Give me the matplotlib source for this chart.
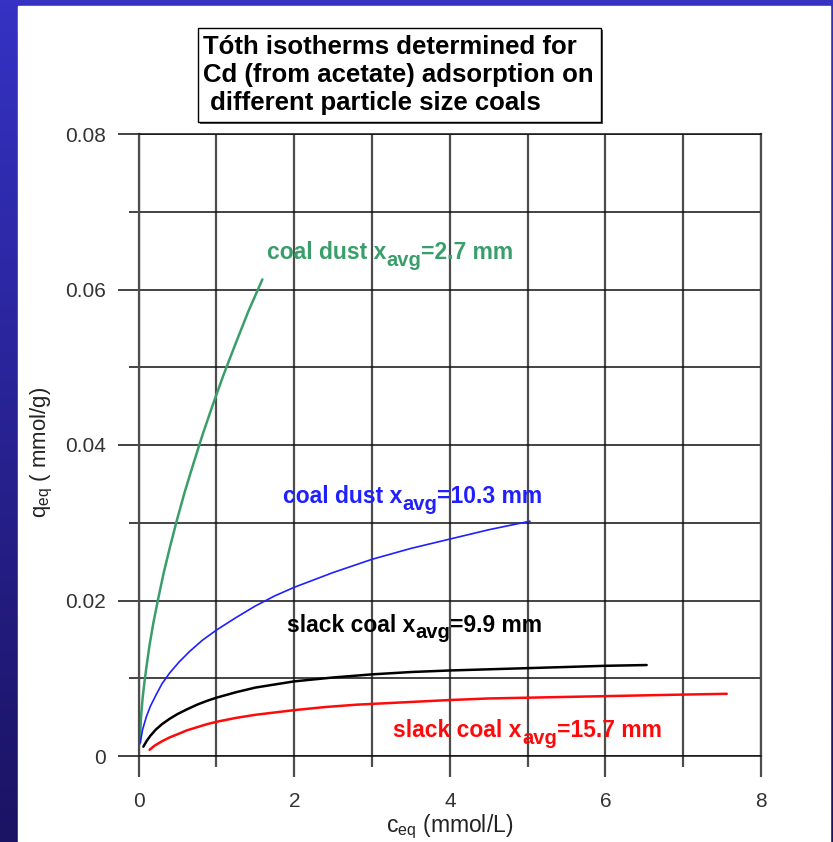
import numpy as np
import matplotlib
matplotlib.use('Agg')
import matplotlib.pyplot as plt
from matplotlib.patches import Rectangle
from matplotlib.colors import LinearSegmentedColormap

plt.rcParams['font.family'] = ['Liberation Sans', 'DejaVu Sans']
plt.rcParams['mathtext.fontset'] = 'custom'
plt.rcParams['mathtext.rm'] = 'Liberation Sans'
plt.rcParams['mathtext.it'] = 'Liberation Sans'
plt.rcParams['mathtext.bf'] = 'Liberation Sans:bold'

# curves: c_eq (mmol/L), q_eq (mmol/g)
dust27_c = [0.016, 0.02, 0.03, 0.05, 0.075, 0.10, 0.14, 0.19, 0.25, 0.32, 0.40, 0.49, 0.59,
            0.70, 0.82, 0.95, 1.09, 1.24, 1.41, 1.59]
dust27_q = [0.0016, 0.0030, 0.0050, 0.0074, 0.0096, 0.0115, 0.0143, 0.0172, 0.0202, 0.0235,
            0.0268, 0.0303, 0.0339, 0.0375, 0.0413, 0.0451, 0.0490, 0.0529, 0.0572, 0.0613]

dust103_c = [0.02, 0.05, 0.10, 0.15, 0.22, 0.30, 0.40, 0.52, 0.66, 0.82, 1.00, 1.25, 1.50,
             1.75, 2.00, 2.50, 3.00, 3.50, 4.00, 4.50, 5.03]
dust103_q = [0.0017, 0.0034, 0.0051, 0.0064, 0.0078, 0.0093, 0.0107, 0.0121, 0.0135, 0.0149,
             0.0162, 0.0178, 0.0193, 0.0206, 0.0217, 0.0236, 0.0253, 0.0267, 0.0279, 0.0291,
             0.0302]

slack99_c = [0.06, 0.10, 0.15, 0.22, 0.30, 0.40, 0.50, 0.62, 0.75, 0.88, 1.00, 1.25, 1.50,
             1.75, 2.00, 2.50, 3.00, 3.50, 4.00, 4.50, 5.00, 5.50, 6.00, 6.53]
slack99_q = [0.0012, 0.0019, 0.0026, 0.0034, 0.0041, 0.0048, 0.0054, 0.0060, 0.0066, 0.0071,
             0.0075, 0.0082, 0.0088, 0.0092, 0.0096, 0.0101, 0.0105, 0.0108, 0.0110, 0.01115,
             0.0113, 0.01145, 0.0116, 0.0117]

slack157_c = [0.14, 0.20, 0.30, 0.40, 0.50, 0.62, 0.75, 0.88, 1.00, 1.25, 1.50, 1.75, 2.00,
              2.40, 2.80, 3.40, 4.00, 4.50, 5.00, 5.50, 6.00, 6.50, 7.00, 7.56]
slack157_q = [0.0008, 0.0013, 0.0019, 0.0024, 0.0028, 0.0033, 0.0037, 0.0041, 0.0044, 0.0049,
              0.0053, 0.0056, 0.0059, 0.0063, 0.0066, 0.0069, 0.0072, 0.0074, 0.0075, 0.0076,
              0.0077, 0.0078, 0.0079, 0.0080]

x_major = [0, 2, 4, 6, 8]
x_minor = [1, 3, 5, 7]
y_major = [0, 0.02, 0.04, 0.06, 0.08]
y_minor = [0.01, 0.03, 0.05, 0.07]
y_labels = ['0', '0.02', '0.04', '0.06', '0.08']

title_lines = ['Tóth isotherms determined for',
               'Cd (from acetate) adsorption on',
               ' different particle size coals']

W, H = 833, 842
fig = plt.figure(figsize=(W / 100, H / 100), dpi=100)


def px(x, y):
    return x / W, 1 - y / H


# blue slide frame
bg = fig.add_axes([0, 0, 1, 1], zorder=-5)
bg.axis('off')
frame = LinearSegmentedColormap.from_list('frame', ['#3532c4', '#1b1363'])
bg.imshow(np.linspace(0, 1, 256)[:, None], cmap=frame, aspect='auto', extent=[0, 1, 0, 1])
bg.add_patch(Rectangle((18 / W, 0), (830 - 18) / W, 1 - 6 / H, color='white'))
bg.set_xlim(0, 1)
bg.set_ylim(0, 1)

ax = fig.add_axes([138.7 / W, 1 - 756 / H, (761 - 138.7) / W, (756 - 134) / H])
ax.set_xlim(0, 8)
ax.set_ylim(0, 0.08)
ax.set_axisbelow(True)

vcol, vlw = '#4d4d4d', 1.6
hcol, hlw = '#111111', 1.1
ax.set_xticks(x_major)
ax.set_xticks(x_minor, minor=True)
ax.set_yticks(y_major)
ax.set_yticks(y_minor, minor=True)
ax.set_yticklabels(y_labels)
ax.tick_params(axis='x', which='major', length=15, width=vlw, color=vcol, pad=11,
               labelsize=15, labelcolor='#333333')
ax.tick_params(axis='x', which='minor', length=8, width=vlw, color=vcol)
ax.tick_params(axis='y', which='major', length=15, width=hlw, color=hcol, pad=8.5,
               labelsize=15, labelcolor='#333333')
ax.tick_params(axis='y', which='minor', length=7.5, width=hlw, color=hcol)
ax.grid(True, which='both', axis='x', color=vcol, lw=vlw)
ax.grid(True, which='both', axis='y', color=hcol, lw=hlw)
for s in ['left', 'right']:
    ax.spines[s].set_color(vcol)
    ax.spines[s].set_linewidth(vlw)
for s in ['top', 'bottom']:
    ax.spines[s].set_color(hcol)
    ax.spines[s].set_linewidth(hlw)

green, blue, red = '#3a9e6b', '#1f1fff', '#ff0a0a'
line_kw = dict(solid_joinstyle='round', solid_capstyle='round')
ax.plot(dust27_c, dust27_q, color=green, lw=1.8, **line_kw)
ax.plot(dust103_c, dust103_q, color=blue, lw=1.2, **line_kw)
ax.plot(slack99_c, slack99_q, color='black', lw=1.8, **line_kw)
ax.plot(slack157_c, slack157_q, color=red, lw=1.8, **line_kw)


def sub_label(x, y, main, sub, rest, color):
    kw = dict(color=color, fontweight='bold')
    t1 = ax.text(x, y, main, fontsize=16.5, va='baseline', **kw)
    t2 = ax.annotate(sub, xy=(1, 0), xycoords=t1, xytext=(0.3, -4), textcoords='offset points',
                     fontsize=14.5, va='bottom', ha='left', **kw)
    ax.annotate(rest, xy=(1, 0), xycoords=(t2, t1), fontsize=16.5, va='bottom', ha='left', **kw)


sub_label(1.645, 0.0639, 'coal dust x', 'avg', '=2.7 mm', green)
sub_label(1.851, 0.0325, 'coal dust x', 'avg', '=10.3 mm', blue)
sub_label(1.902, 0.0160, 'slack coal x', 'avg', '=9.9 mm', 'black')
sub_label(3.272, 0.00244, 'slack coal x', 'avg', '=15.7 mm', red)

fig.text(*px(450, 832), r'$\mathregular{c_{eq}}$ (mmol/L)', fontsize=16.5, ha='center',
         va='baseline', color='#222222')
fig.text(*px(42, 452), r'$\mathregular{q_{eq}}$ ( mmol/g)', fontsize=16, rotation=90,
         ha='center', va='center', color='#222222')

# title box with a small drop shadow
x0, y0 = px(198, 122)
bw, bh = (601 - 198) / W, (122 - 28) / H
fig.add_artist(Rectangle((x0 + 2 / W, y0 - 2 / H), bw, bh, transform=fig.transFigure,
                         facecolor='#555555', edgecolor='none'))
fig.add_artist(Rectangle((x0, y0), bw, bh, transform=fig.transFigure,
                         facecolor='white', edgecolor='black', lw=1.0))
for line, base in zip(title_lines, [54, 82, 110]):
    fig.text(*px(203, base), line, fontsize=18.5, fontweight='bold', va='baseline')

fig.savefig('out.png', dpi=100)
